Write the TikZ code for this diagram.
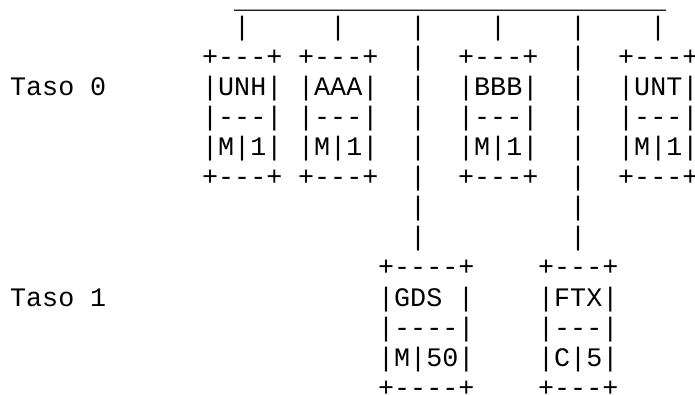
\documentclass[tikz,border=0pt]{standalone}
\font\asciifont="Liberation Mono" at 26.7pt
\tikzset{ascii/.style={font=\asciifont, anchor=base west, inner sep=0pt},
  rail/.style={ascii, yshift=-3.5pt}}

\begin{document}
\begin{tikzpicture}[x=16pt,y=-30.1pt]
      \useasboundingbox (-0.625,-0.166) rectangle (42.8125,12.924);

      % rail and drops
      \foreach \c in {14,...,40}
        \node[rail] (rail\c) at (\c,0) {\char95};
      \foreach \c in {14,20,25,30,35,40}
        \node[ascii] (drop\c) at (\c,1) {|};

      % lines going on to the next step
      \foreach \c in {25,35}
        \foreach \r in {2,...,8}
          \node[ascii] (pass\c-\r) at (\c,\r) {|};

      % step 0
      \node[ascii] (taso0) at (0,3) {Taso};
      \node[ascii] (taso0n) at (5,3) {0};
      \foreach \c/\n in {12/UNH,18/AAA,28/BBB,38/UNT} {
        \node[ascii] (top\n) at (\c,2) {+---+};
        \node[ascii] (\n) at (\c,3) {|\n|};
        \node[ascii] (sep\n) at (\c,4) {|---|};
        \node[ascii] (val\n) at (\c,5) {|M|1|};
        \node[ascii] (bot\n) at (\c,6) {+---+};
      }

      % step 1
      \node[ascii] (taso1) at (0,10) {Taso};
      \node[ascii] (taso1n) at (5,10) {1};

      \node[ascii] (topGDS) at (23,9) {+----+};
      \node[ascii] (GDS) at (23,10) {|GDS};
      \node[ascii] (GDSend) at (28,10) {|};
      \node[ascii] (sepGDS) at (23,11) {|----|};
      \node[ascii] (valGDS) at (23,12) {|M|50|};
      \node[ascii] (botGDS) at (23,13) {+----+};

      \node[ascii] (topFTX) at (33,9) {+---+};
      \node[ascii] (FTX) at (33,10) {|FTX|};
      \node[ascii] (sepFTX) at (33,11) {|---|};
      \node[ascii] (valFTX) at (33,12) {|C|5|};
      \node[ascii] (botFTX) at (33,13) {+---+};
    \end{tikzpicture}
\end{document}
